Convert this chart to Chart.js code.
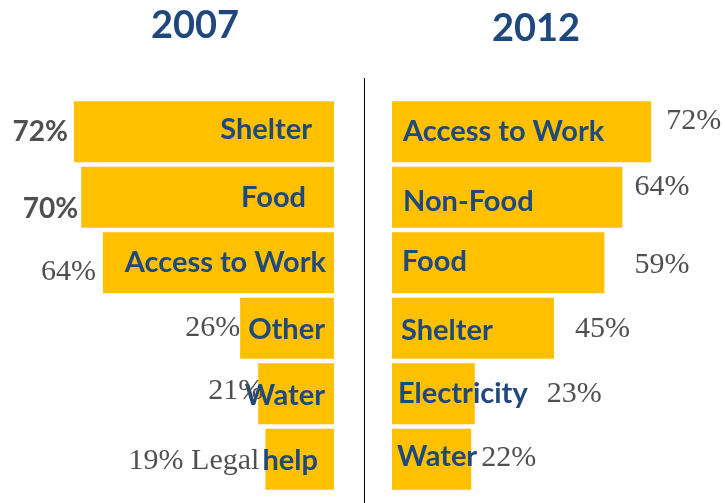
<!DOCTYPE html>
<html>
<head>
<meta charset="utf-8">
<script src="https://cdn.jsdelivr.net/npm/chart.js@4.4.1/dist/chart.umd.min.js"></script>
<style>
  html, body { margin: 0; padding: 0; background: #fff; }
  #wrap { position: relative; width: 725px; height: 503px; overflow: hidden; }
  canvas { position: absolute; left: 0; top: 0; }
  .year {
    position: absolute; transform: translateX(-50%);
    font-family: Lato, sans-serif; font-weight: 700; font-size: 38px;
    line-height: 1; color: #1F497D;
  }
  #divider { position: absolute; left: 364px; top: 78px; width: 1px; height: 425px; background: #000; }
</style>
</head>
<body>
<div id="wrap">
  <canvas id="chart2007" width="725" height="503"></canvas>
  <canvas id="chart2012" width="725" height="503"></canvas>
  <div class="year" style="left:195px; top:4px">2007</div>
  <div class="year" style="left:536px; top:7px">2012</div>
  <div id="divider"></div>
</div>
<script>
// Needs named per year
const needs2007 = ['Shelter', 'Food', 'Access to Work', 'Other', 'Water', 'Legal help'];
const share2007 = [72, 70, 64, 26, 21, 19];

const needs2012 = ['Access to Work', 'Non-Food', 'Food', 'Shelter', 'Electricity', 'Water'];
const share2012 = [72, 64, 59, 45, 23, 22];

const BAR_COLOR = '#FFC000';
const NAME_COLOR = '#1F497D';
const VALUE_COLOR = '#505050';
const NAME_FONT = 'bold 29px Lato, sans-serif';
const SANS_VALUE = 'bold 28px Lato, sans-serif';
const SERIF_VALUE = '30px "Liberation Serif", serif';

// Writes the need inside each bar and its share outside the bar end
const barLabels = {
  id: 'barLabels',
  afterDatasetsDraw(chart, args, opts) {
    const ctx = chart.ctx;
    const meta = chart.getDatasetMeta(0);
    const values = chart.data.datasets[0].data;
    const names = chart.data.labels;
    const dir = opts.side === 'left' ? -1 : 1;
    ctx.save();
    ctx.textBaseline = 'middle';
    meta.data.forEach((bar, i) => {
      const words = names[i].split(' ');
      const moved = opts.outsideWords[i];
      const inner = words.slice(moved).join(' ');
      const outer = [values[i] + '%'].concat(words.slice(0, moved)).join(' ');

      ctx.fillStyle = NAME_COLOR;
      ctx.font = NAME_FONT;
      ctx.textAlign = dir < 0 ? 'right' : 'left';
      ctx.fillText(inner, bar.base + dir * opts.inset[i], bar.y + opts.nameDy[i]);

      ctx.fillStyle = VALUE_COLOR;
      ctx.font = opts.serif[i] ? SERIF_VALUE : SANS_VALUE;
      ctx.fillText(outer, bar.x + dir * opts.gap[i], bar.y + opts.valueDy[i]);
    });
    ctx.restore();
  }
};

function makeChart(id, labels, data, side, labelOpts) {
  const left = side === 'left';
  return new Chart(document.getElementById(id), {
    type: 'bar',
    data: {
      labels: labels,
      datasets: [{
        data: data,
        backgroundColor: BAR_COLOR,
        borderWidth: 0,
        categoryPercentage: 0.93,
        barPercentage: 1
      }]
    },
    options: {
      indexAxis: 'y',
      responsive: false,
      animation: false,
      layout: {
        padding: left
          ? { left: 0, right: 391, top: 99, bottom: 11 }
          : { left: 392, right: 0, top: 99, bottom: 11 }
      },
      scales: {
        x: { display: false, min: 0, max: 92.5, reverse: left },
        y: { display: false }
      },
      plugins: {
        legend: { display: false },
        tooltip: { enabled: false },
        barLabels: Object.assign({ side: side }, labelOpts)
      }
    },
    plugins: [barLabels]
  });
}

makeChart('chart2007', needs2007, share2007, 'left', {
  inset: [22, 28, 8, 9, 9, 16],
  nameDy: [-2, 0, 0, 1, 2, 1],
  gap: [6, 3, 7, 0, -5, 6],
  valueDy: [0, 12, 9, 0, -3, 2],
  serif: [false, false, true, true, true, true],
  outsideWords: [0, 0, 0, 0, 0, 1]
});

makeChart('chart2012', needs2012, share2012, 'right', {
  inset: [11, 11, 10, 9, 6, 5],
  nameDy: [0, 4, -1, 2, 0, -3],
  gap: [15, 12, 30, 21, 72, 10],
  valueDy: [-11, -10, 2, 1, 0, -1],
  serif: [true, true, true, true, true, true],
  outsideWords: [0, 0, 0, 0, 0, 0]
});
</script>
</body>
</html>
